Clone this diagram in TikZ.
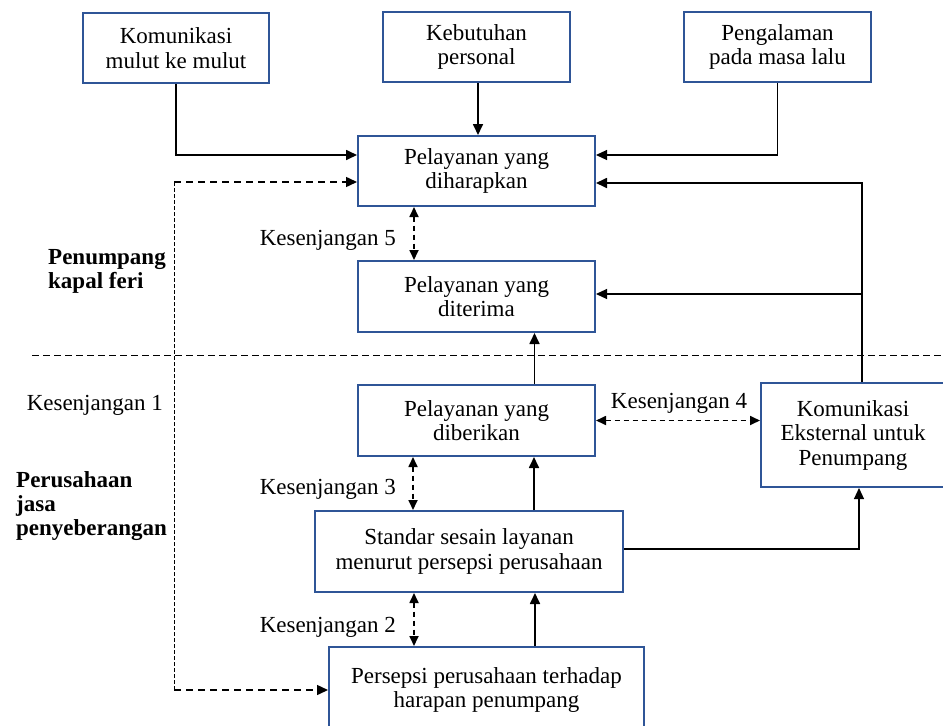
\documentclass[tikz,border=0pt]{standalone}
\usepackage{fontspec}
\setmainfont{Liberation Serif}
\usetikzlibrary{arrows.meta}
\definecolor{boxblue}{RGB}{47,85,151}
\begin{document}
\begin{tikzpicture}[x=1pt,y=-1pt,
  box/.style={draw=boxblue,line width=2pt,fill=white,align=center,inner sep=0pt,
    font=\fontsize{23}{24.5}\selectfont},
  lbl/.style={font=\fontsize{23}{24.5}\selectfont,inner sep=0pt},
  blbl/.style={font=\fontsize{23}{24}\selectfont\bfseries,inner sep=0pt,align=left},
  arr/.style={line width=1.7pt,-{Triangle[length=11pt,width=10pt]}},
  tarr/.style={line width=1.1pt,-{Triangle[length=11pt,width=10pt]}},
  darr/.style={line width=1.7pt,dash pattern=on 5pt off 4pt,{Triangle[length=10pt,width=9pt]}-{Triangle[length=10pt,width=9pt]}},
  dsh/.style={line width=1.5pt,dash pattern=on 7pt off 5pt},
  fine/.style={line width=1pt,dash pattern=on 4pt off 2pt},
  sep/.style={line width=1pt,dash pattern=on 7pt off 4pt}]
\useasboundingbox (0,0) rectangle (943,726);
\fill[white] (0,0) rectangle (943,726);

% boxes
\node[box,minimum width=186pt,minimum height=70pt] (kom) at (176,48) {Komunikasi\\mulut ke mulut};
\node[box,minimum width=187pt,minimum height=70pt] (keb) at (476.5,47) {Kebutuhan\\personal};
\node[box,minimum width=187pt,minimum height=70pt] (pen) at (777.5,47) {Pengalaman\\pada masa lalu};
\node[box,minimum width=237pt,minimum height=70pt] (har) at (476.5,171) {Pelayanan yang\\diharapkan};
\node[box,minimum width=237pt,minimum height=71pt] (ter) at (476.5,296.5) {Pelayanan yang\\diterima};
\node[box,minimum width=237pt,minimum height=71pt] (ber) at (476.5,420.5) {Pelayanan yang\\diberikan};
\node[box,minimum width=184pt,minimum height=104pt] (eks) at (853,435) {Komunikasi\\Eksternal untuk\\Penumpang};
\node[box,minimum width=308pt,minimum height=81pt] (std) at (469,551.5) {Standar sesain layanan\\menurut persepsi perusahaan};
\node[box,minimum width=315pt,minimum height=86pt] (per) at (486.5,690) {Persepsi perusahaan terhadap\\harapan penumpang};

% separator
\coordinate (sl) at (32,355);
\coordinate (sr) at (943,355);
\draw[sep] (sl) -- (sr);

% inputs to expected service
\draw[arr] (kom.south) |- ([yshift=16pt]har.west);
\draw[arr] ([xshift=1.5pt]keb.south) -- ([xshift=1.5pt]har.north);
\draw[tarr] (pen.south) |- ([yshift=16pt]har.east);

% dashed feedback
\coordinate (fb) at (174,690);
\coordinate (ft) at (174,182);
\draw[fine] (fb) -- (ft);
\draw[dsh,-{Triangle[length=11pt,width=10pt]}] (ft) -- ([yshift=-11pt]har.west);
\draw[dsh,-{Triangle[length=11pt,width=10pt]}] (fb) -- (per.west);

% right feedback
\coordinate (rb) at (862,294);
\draw[arr] ([xshift=9pt]eks.north) |- ([yshift=-12pt]har.east);
\draw[tarr] (rb) -- (rb -| ter.east);

% upward arrows
\draw[arr] ([xshift=58pt]ber.north) -- ([xshift=58pt]ter.south);
\draw[arr] ([xshift=65pt]std.north) -- ([xshift=65pt]std.north |- ber.south);
\draw[arr] ([xshift=48.5pt]per.north) -- ([xshift=48.5pt]per.north |- std.south);
\draw[tarr] (std.east |- 0,549) -| ([xshift=6pt]eks.south);

% gaps
\draw[darr] ([xshift=-62.5pt]har.south) -- ([xshift=-62.5pt]ter.north);
\draw[darr] ([xshift=-63.5pt]ber.south) -- ([xshift=-63.5pt]ber.south |- std.north);
\draw[darr] ([xshift=-55pt]std.south) -- ([xshift=-55pt]std.south |- per.north);
\draw[darr] (ber.east) -- (ber.east -| eks.west);

% labels
\node[lbl,anchor=east] (k5) at (396,240) {Kesenjangan 5};
\node[lbl,anchor=east] (k3) at (396,489) {Kesenjangan 3};
\node[lbl,anchor=east] (k2) at (396,627) {Kesenjangan 2};
\node[lbl] (k4) at (679,403) {Kesenjangan 4};
\node[lbl,anchor=east] (k1) at (163,405) {Kesenjangan 1};
\node[blbl,anchor=west] (pk) at (48,271.5) {Penumpang\\kapal feri};
\node[blbl,anchor=west] (pj) at (16,506) {Perusahaan\\jasa\\penyeberangan};
\end{tikzpicture}
\end{document}
